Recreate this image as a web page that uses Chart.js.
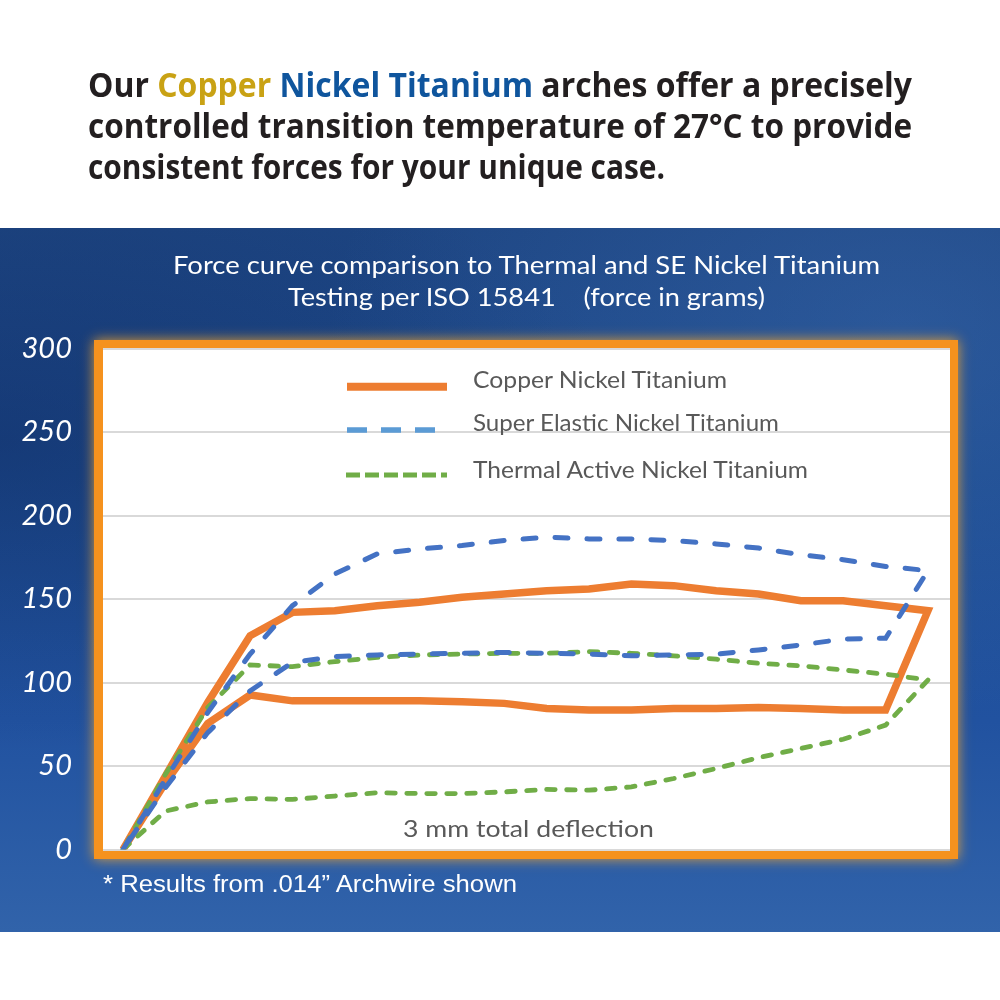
<!DOCTYPE html>
<html><head><meta charset="utf-8">
<script src="https://cdn.jsdelivr.net/npm/chart.js@4"></script>
<style>
html,body{margin:0;padding:0;background:#fff;}
#wrap{position:relative;width:1000px;height:1000px;overflow:hidden;background:#fff;}
#panel{position:absolute;left:0;top:228px;width:1000px;height:704px;
 background:
  radial-gradient(ellipse at 90% 15%, rgba(70,120,190,0.35), rgba(0,0,0,0) 45%),
  radial-gradient(ellipse at 0% 30%, rgba(10,30,80,0.35), rgba(0,0,0,0) 45%),
  linear-gradient(180deg,#1d4582 0%,#1c4a8e 35%,#2152a0 70%,#3163aa 100%);}
#c{position:absolute;left:0;top:0;width:1000px;height:1000px;}
#ov{position:absolute;left:0;top:0;pointer-events:none;}
</style></head>
<body><div id="wrap"><div id="panel"></div><canvas id="c" width="1000" height="1000"></canvas>
<svg id="ov" width="1000" height="1000" xmlns="http://www.w3.org/2000/svg">
 <g font-family="'Open Sans', sans-serif" font-weight="700" font-size="34" fill="#231F20">
  <text x="88" y="97" textLength="824" lengthAdjust="spacingAndGlyphs">Our <tspan fill="#C9A214">Copper</tspan> <tspan fill="#0F559D">Nickel Titanium</tspan> arches offer a precisely</text>
  <text x="88" y="138" textLength="824" lengthAdjust="spacingAndGlyphs">controlled transition temperature of 27°C to provide</text>
  <text x="88" y="179" textLength="577" lengthAdjust="spacingAndGlyphs">consistent forces for your unique case.</text>
 </g>
 <g font-family="Lato, sans-serif" font-size="25" fill="#ffffff">
  <text x="173" y="274" textLength="707" lengthAdjust="spacingAndGlyphs">Force curve comparison to Thermal and SE Nickel Titanium</text>
  <text x="288" y="306" textLength="477" lengthAdjust="spacingAndGlyphs" style="white-space:pre">Testing per ISO 15841    (force in grams)</text>
 </g>
 <line x1="347" y1="386.7" x2="447" y2="386.7" stroke="#ED7D31" stroke-width="8"/>
 <line x1="347" y1="430" x2="435" y2="430" stroke="#5B9BD5" stroke-width="5.5" stroke-dasharray="20 14"/>
 <line x1="346" y1="475" x2="447" y2="475" stroke="#70AD47" stroke-width="5" stroke-dasharray="14 5"/>
 <g font-family="Lato, sans-serif" font-size="23" fill="#595959">
  <text x="473" y="388" textLength="254" lengthAdjust="spacingAndGlyphs">Copper Nickel Titanium</text>
  <text x="473" y="431" textLength="306" lengthAdjust="spacingAndGlyphs">Super Elastic Nickel Titanium</text>
  <text x="473" y="478" textLength="335" lengthAdjust="spacingAndGlyphs">Thermal Active Nickel Titanium</text>
  <text x="403" y="837" textLength="251" lengthAdjust="spacingAndGlyphs" font-size="24">3 mm total deflection</text>
 </g>
 <text x="103" y="892" textLength="414" lengthAdjust="spacingAndGlyphs" font-family="'Liberation Sans', Arial, sans-serif" font-size="23" fill="#ffffff">* Results from .014” Archwire shown</text>
</svg></div>
<script>
// Deflection steps (3 mm total deflection split into recorded steps)
const deflectionSteps = [0,1,2,3,4,5,6,7,8,9,10,11,12,13,14,15,16,17,18,19];
const yTicks = [0,50,100,150,200,250,300];

// Copper Nickel Titanium (force in grams)
const copperLoading   = [0,44,88,128,142,143,146,148,151,153,155,156,159,158,155,153,149,149,146,143];
const copperUnloading = [0,40,75.5,92.5,89,89,89,89,88.5,87.5,84.5,83.5,83.5,84.5,84.5,85,84.5,83.5,83.5];

// Super Elastic Nickel Titanium
const seLoading   = [0,42,82,117,146,165,177,180,182,185,187,186,186,185,183,180.5,176.5,173.5,169.5,167];
const seUnloading = [0,37,70,95,112,115.5,116.5,117,117.5,118,117.5,117,116,116.5,117,119.5,122.5,126,126.5];

// Thermal Active Nickel Titanium
const taLoading   = [0,23,28.5,30.5,30,32,34,33.5,33.5,34.5,36,35.5,37.5,42.5,48.5,55,60.5,66,74.5,101.5];
const taUnloading = [0,45,85,110.5,109.5,112.5,115,116.5,117,117.5,117.5,118.5,117.5,116,114,111.5,110,107.5,105];

function loop(loading, unloading){
  const pts = loading.map((v,i)=>({x:deflectionSteps[i], y:v}));
  for(let i=unloading.length-1;i>=0;i--) pts.push({x:deflectionSteps[i], y:unloading[i]});
  return pts;
}

const framePlugin = {
  id:'frame',
  beforeDraw(chart){
    const {ctx, chartArea:a} = chart;
    ctx.save();
    ctx.shadowColor = 'rgba(255,170,40,0.85)';
    ctx.shadowBlur = 12;
    ctx.fillStyle = '#F5921E';
    ctx.fillRect(a.left-9, a.top-8.5, a.right-a.left+17, a.bottom-a.top+18);
    ctx.shadowBlur = 0; ctx.shadowColor = 'transparent';
    ctx.fillStyle = '#ffffff';
    ctx.fillRect(a.left, a.top, a.right-a.left, a.bottom-a.top+1);
    ctx.restore();
  }
};

new Chart(document.getElementById('c'), {
  type:'line',
  data:{ datasets:[
    {label:'Super Elastic Nickel Titanium', data:loop(seLoading, seUnloading), borderColor:'#4472C4', borderWidth:5,
     borderDash:[13,19], borderCapStyle:'round', pointRadius:0, tension:0, order:1},
    {label:'Thermal Active Nickel Titanium', data:loop(taLoading, taUnloading), borderColor:'#70AD47', borderWidth:4.8,
     borderDash:[8.5,11.5], borderCapStyle:'round', pointRadius:0, tension:0, order:2},
    {label:'Copper Nickel Titanium', data:loop(copperLoading, copperUnloading), borderColor:'#ED7D31', borderWidth:7.5,
     borderJoinStyle:'miter', pointRadius:0, tension:0, order:3}
  ]},
  options:{
    responsive:false, animation:false, devicePixelRatio:1,
    layout:{padding:{left:0, top:348.5, right:50, bottom:150.5}},
    plugins:{legend:{display:false}, tooltip:{enabled:false}, title:{display:false}},
    scales:{
      x:{type:'linear', display:false, min:-0.472, max:19.52},
      y:{type:'linear', min:0, max:300,
         afterBuildTicks(s){ s.ticks = yTicks.map(v=>({value:v})); },
         afterFit(s){ s.width = 103; },
         ticks:{color:'#ffffff', padding:31, font:{family:'Lato', size:29, style:'italic', weight:'normal'}},
         grid:{color:'#D9D9D9', lineWidth:2, drawTicks:false},
         border:{display:false}}
    }
  },
  plugins:[framePlugin]
});
</script>
</body></html>
